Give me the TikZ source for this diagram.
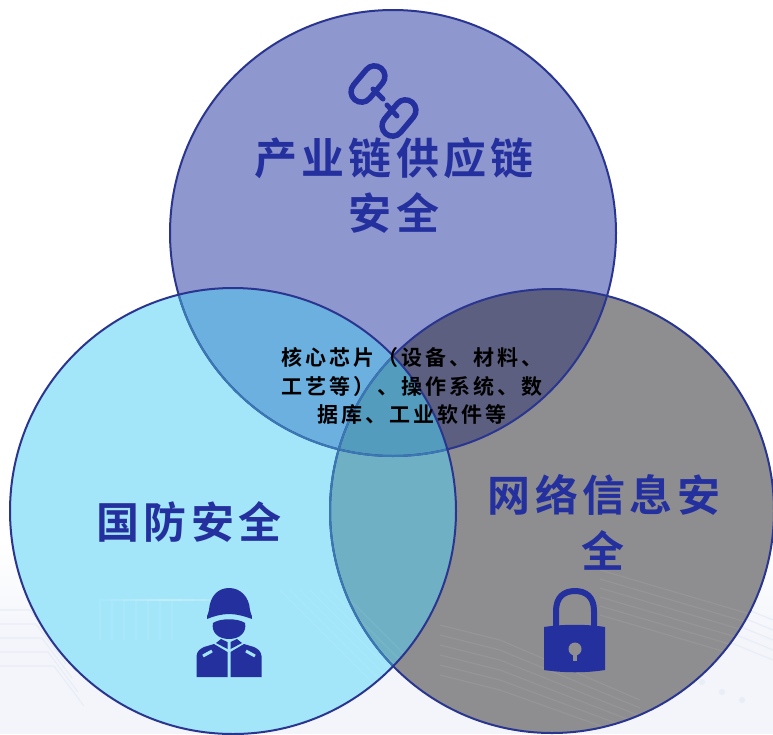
\documentclass[tikz,border=0pt]{standalone}
\usepackage{fontspec}
\usepackage{tikz}
\newfontfamily\bigcjk[LetterSpace=10]{Noto Sans CJK SC Bold}
\newfontfamily\midcjk[LetterSpace=14]{Noto Sans CJK SC Bold}
\definecolor{navy}{HTML}{25309F}
\definecolor{edge}{HTML}{2A3590}
\definecolor{edgein}{HTML}{3A78B4}
\definecolor{ctop}{HTML}{8F97CF}
\definecolor{cleft}{HTML}{A3E6FA}
\definecolor{cright}{HTML}{8E8E90}
\definecolor{ctl}{HTML}{6CB0E0}
\definecolor{ctr}{HTML}{5C5F80}
\definecolor{clr}{HTML}{6FB0C4}
\definecolor{cmid}{HTML}{549CBE}
\definecolor{bgtrace}{HTML}{E9EDF6}
\definecolor{bgbase}{HTML}{F3F5FB}
\tikzset{
  x=1pt,y=-1pt,
  bigtext/.style={text=navy,font=\fontsize{43}{55}\selectfont\bigcjk,inner sep=0pt,align=center},
  midtext/.style={text=black,font=\fontsize{21}{28.5}\selectfont\midcjk,inner sep=0pt,align=center},
  ring/.style={draw=edge,line width=2pt},
  tracebg/.style={draw=bgtrace,line width=1.2pt},
  tracel/.style={draw=white,opacity=.07,line width=1.2pt},
  icon/.style={fill=navy,draw=none},
  chainlink/.style={draw=navy,line width=5.5pt,rounded corners=10.5pt},
}
\def\cirT{(393,233) circle[radius=223pt]}
\def\cirL{(233,511) circle[radius=223pt]}
\def\cirR{(552,511) circle[radius=222pt]}
\begin{document}
\begin{tikzpicture}
\useasboundingbox (0,0) rectangle (773,734);
% background
\shade[top color=white,bottom color=bgbase] (0,540) rectangle (773,640);
\fill[bgbase] (0,640) rectangle (773,734);
\foreach \i in {0,1,2,3,4}{
  \draw[tracebg] (0,{610+\i*14}) -- ({30+\i*6},{610+\i*14}) -- ({60+\i*6},{650+\i*14});
  \draw[tracebg] (700,{590+\i*10}) -- (773,{620+\i*10});
}
\foreach \p in {(690,672),(702,682),(722,692),(742,700)} \fill[bgtrace] \p circle[radius=3pt];
% regions
\fill[ctop] \cirT; \fill[cleft] \cirL; \fill[cright] \cirR;
\begin{scope}\clip \cirT; \fill[ctl] \cirL; \fill[ctr] \cirR; \end{scope}
\begin{scope}\clip \cirL; \fill[clr] \cirR; \end{scope}
\begin{scope}\clip \cirT; \clip \cirL; \fill[cmid] \cirR; \end{scope}
% faint circuit traces
\begin{scope}\clip \cirR;
  \foreach \i in {0,...,5}{
    \draw[tracel] ({440},{625+\i*10}) -- ({500},{640+\i*10}) -- ({640},{700+\i*8});
    \draw[tracel] ({600},{570+\i*9}) -- ({770},{620+\i*9});
  }
\end{scope}
\begin{scope}\clip \cirL;
  \foreach \i in {0,...,6}{
    \draw[tracel] ({100+\i*12},640) -- ({100+\i*12},600) -- ({170+\i*12},600);
    \draw[tracel] ({280+\i*10},590) -- ({370+\i*10},680);
  }
\end{scope}
% outlines
\draw[ring] \cirT;
\begin{scope}\clip \cirL; \draw[edgein,line width=2pt] \cirT; \end{scope}
\draw[ring] \cirR;
\begin{scope}\clip \cirL; \draw[edgein,line width=2pt] \cirR; \end{scope}
\draw[ring] \cirL;
% labels
\node[bigtext] (topa) at (394,158) {产业链供应链};
\node[bigtext] (topb) at (394,213) {安全};
\node[bigtext] (lefta) at (189,522) {国防安全};
\node[bigtext] (righta) at (604,495) {网络信息安};
\node[bigtext] (rightb) at (603,550) {全};
\node[midtext] (core) at (412,386) {核心芯片（设备、材料、\\工艺等）、操作系统、数\\据库、工业软件等};
% chain icon
\begin{scope}[shift={(368,84)},rotate=50]
  \draw[chainlink] (-20.5,-10.5) rectangle (20.5,10.5);
\end{scope}
\begin{scope}[shift={(399,118)},rotate=50]
  \draw[chainlink] (-20.5,-10.5) rectangle (20.5,10.5);
\end{scope}
\draw[navy,line width=5pt,line cap=round] (373,89) -- (383,99);
\draw[navy,line width=5pt,line cap=round] (387,105) -- (397,116);
% soldier icon
\fill[icon] (207,619) .. controls (206,617) and (208,615) .. (209,610)
  .. controls (210,596) and (218,588) .. (229,588)
  .. controls (240,588) and (249,596) .. (250,610)
  .. controls (251,615) and (253,617) .. (252,619)
  .. controls (244,616) and (236,614) .. (229,614)
  .. controls (222,614) and (214,616) .. (207,619) -- cycle;
\fill[icon] (213,623) .. controls (220,618) and (238,618) .. (245,623)
  .. controls (247,632) and (240,639) .. (229,639)
  .. controls (218,639) and (211,632) .. (213,623) -- cycle;
\fill[icon] (196.5,677) -- (196.5,656) .. controls (197,651) and (200,649) .. (204,647)
  -- (214,644) -- (227.5,652) -- (227.5,677) -- cycle;
\fill[icon] (261.5,677) -- (261.5,656) .. controls (261,651) and (258,649) .. (254,647)
  -- (244,644) -- (230.5,652) -- (230.5,677) -- cycle;
\fill[icon] (216,643) -- (221,639) -- (227.5,642) -- (227.5,649) -- cycle;
\fill[icon] (242,643) -- (237,639) -- (230.5,642) -- (230.5,649) -- cycle;
\draw[cleft,line width=3pt] (203,656) -- (212,651);
\draw[cleft,line width=3pt] (255,656) -- (246,651);
% lock icon
\draw[navy,line width=6pt] (556,628) -- (556,611) .. controls (556,597) and (564,591) .. (575,591)
  .. controls (586,591) and (594,597) .. (594,611) -- (594,628);
\fill[icon] (544,627) .. controls (564,624) and (586,624) .. (605,627) -- (605,670)
  .. controls (586,673) and (564,673) .. (544,670) -- cycle;
\fill[cright] (575,649) circle[radius=6.5pt];
\fill[cright] (573.2,650) rectangle (576.8,661);
\end{tikzpicture}
\end{document}
